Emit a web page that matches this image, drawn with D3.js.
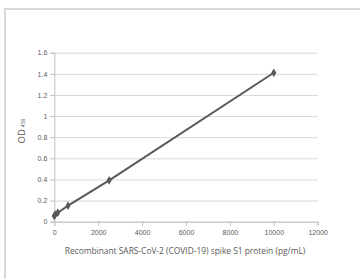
<!DOCTYPE html>
<html lang="en">
<head>
  <meta charset="UTF-8" />
  <title>D3 - standard curve</title>
  <script src="https://d3js.org/d3.v7.min.js"></script>
  <style>
  body { margin: 0; background: #fff; }
  svg { font-family: "Open Sans", "Liberation Sans", sans-serif; display: block; }
  .axis text { fill: #595959; font-size: 7px; }
  .axis path.domain { stroke: #bfbfbf; }
  .axis .tick line { stroke: #bfbfbf; }
  .grid .tick line { stroke: #d9d9d9; }
  .grid path.domain { stroke: none; }
  </style>
</head>
<body>
<script>
// concentration (pg/mL) vs OD450
const conc = [0, 39, 156, 625, 2500, 10000];
const od = [0.055, 0.066, 0.085, 0.152, 0.392, 1.41];
const xTicks = [0, 2000, 4000, 6000, 8000, 10000, 12000];
const yTicks = [0, 0.2, 0.4, 0.6, 0.8, 1, 1.2, 1.4, 1.6];

const W = 360, H = 279;
const svg = d3.select("body").append("svg")
    .attr("width", W)
    .attr("height", H);

// chart frame
svg.append("rect")
    .attr("x", 5).attr("y", 9)
    .attr("width", W).attr("height", H)
    .attr("fill", "#fff")
    .attr("stroke", "#d9d9d9")
    .attr("stroke-width", 2);

const x = d3.scaleLinear().domain([0, 12000]).range([54.3, 317.7]);
const y = d3.scaleLinear().domain([0, 1.6]).range([221.7, 52.7]);

// gridlines
svg.append("g")
    .attr("class", "grid")
    .attr("transform", `translate(${x(0)},0)`)
    .call(d3.axisLeft(y).tickValues(yTicks).tickSize(-(x(12000) - x(0))).tickFormat(""));

svg.append("g")
    .attr("class", "axis")
    .attr("transform", `translate(${x(0)},0)`)
    .call(d3.axisLeft(y).tickValues(yTicks).tickSize(4).tickPadding(3)
      .tickFormat(d => String(+d.toFixed(1))));

svg.append("g")
    .attr("class", "axis")
    .attr("transform", `translate(0,${y(0)})`)
    .call(d3.axisBottom(x).tickValues(xTicks).tickSize(4).tickPadding(4)
      .tickFormat(d3.format("d")));

const pts = conc.map((c, i) => [c, od[i]]);

svg.append("path")
    .datum(pts)
    .attr("fill", "none")
    .attr("stroke", "#595959")
    .attr("stroke-width", 2)
    .attr("d", d3.line().x(d => x(d[0])).y(d => y(d[1])));

svg.append("g")
    .selectAll("path")
    .data(pts)
    .join("path")
    .attr("transform", d => `translate(${x(d[0])},${y(d[1])})`)
    .attr("d", d3.symbol(d3.symbolDiamond, 22))
    .attr("fill", "#595959");

// axis titles
svg.append("text")
    .attr("x", 185).attr("y", 254)
    .attr("text-anchor", "middle")
    .attr("font-size", 8.4)
    .attr("fill", "#595959")
    .text("Recombinant SARS-CoV-2 (COVID-19) spike S1 protein (pg/mL)");

const yt = svg.append("text")
    .attr("transform", "translate(25,131) rotate(-90)")
    .attr("text-anchor", "middle")
    .attr("font-size", 9.5)
    .attr("fill", "#595959");
yt.append("tspan").text("OD");
yt.append("tspan").attr("font-size", 5).attr("dx", 2).text("450");
</script>
</body>
</html>
